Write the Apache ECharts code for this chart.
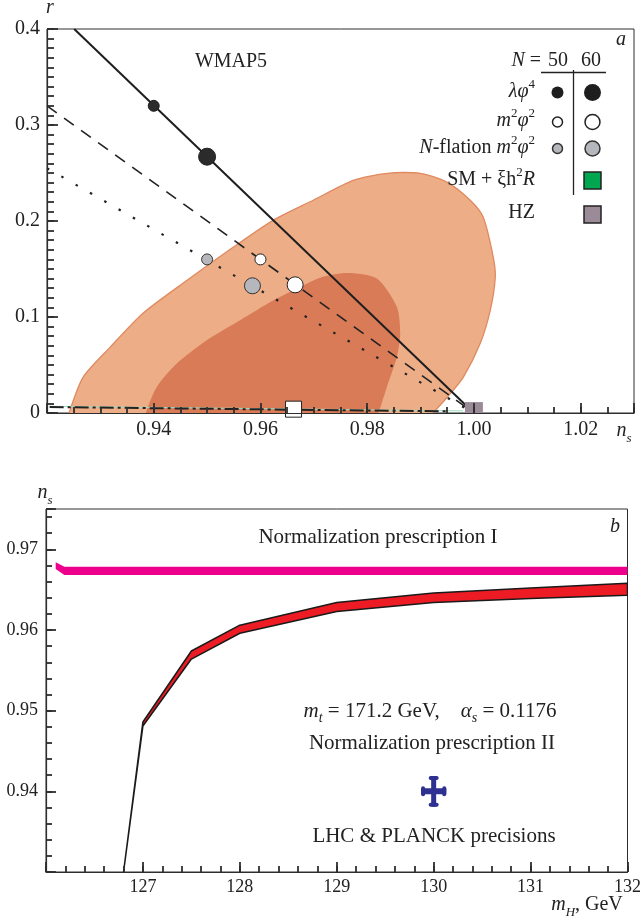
<!DOCTYPE html>
<html><head><meta charset="utf-8">
<script src="https://cdn.jsdelivr.net/npm/echarts@6/dist/echarts.min.js"></script>
<style>html,body{margin:0;padding:0;background:#fff}#c{width:644px;height:922px}</style>
</head><body><div id="c"></div>
<script>
// ---------- Panel a : r vs n_s ----------
const nsTicksA = [0.94, 0.96, 0.98, 1.00, 1.02];
const rTicks = [0, 0.1, 0.2, 0.3, 0.4];
const lambdaPhi4Line = [[0.9251, 0.4], [1.0, 0]];
const m2phi2Line = [[0.92, 0.32], [1.0, 0]];
const nflationLine = [[0.92, 0.255], [1.0, 0]];
const smXiLine = [[0.9205, 0.0062], [0.995, 0.0017]];
const smXiGreenLine = [[0.9205, 0.0070], [0.998, 0.0022]];
const lambdaPhi4Pts = [[0.94, 0.32], [0.95, 0.267]];
const m2phi2Pts = [[0.96, 0.16], [0.9665, 0.1335]];
const nflationPts = [[0.95, 0.16], [0.9585, 0.1325]];
const smXiPoint = [[0.9662, 0.004]];
const hzPoint = [[1.0, 0.002]];
const wmap95 = [[0.9233,-0.02],[0.92413,0],[0.92675,0.0372],[0.93181,0.0684],[0.9380,0.1039],[0.94625,0.1382],
  [0.95488,0.1726],[0.96238,0.2007],[0.96988,0.2216],[0.97738,0.2424],[0.98375,0.2497],
  [0.98994,0.2497],[0.995,0.2403],[0.99931,0.2216],[1.00175,0.2039],[1.00363,0.1622],
  [1.0040,0.1413],[1.00306,0.107],[1.00119,0.0726],[0.998,0.0372],[0.995,0.0164],[0.99238,0],[0.9898,-0.02]];
const wmap68 = [[0.9378,-0.02],[0.93851,0],[0.94057,0.0271],[0.94432,0.0515],[0.94994,0.0757],[0.95619,0.0966],
  [0.96243,0.1174],[0.96744,0.1313],[0.97119,0.141],[0.9762,0.1458],[0.98182,0.14],
  [0.98557,0.1104],[0.98619,0.0827],[0.98557,0.0583],[0.98369,0.0271],[0.98212,0],[0.9808,-0.02]];

// ---------- Panel b : n_s vs m_H ----------
const mHTicks = [127, 128, 129, 130, 131, 132];
const nsTicksB = [0.94, 0.95, 0.96, 0.97];
const mHII = [126.8, 127, 127.5, 128, 129, 130, 131, 132];
const nsIIUpper = [0.9300, 0.9486, 0.9574, 0.9606, 0.9634, 0.9646, 0.9652, 0.9658];
const nsIILower = [0.9300, 0.9481, 0.9564, 0.9596, 0.9623, 0.9634, 0.9639, 0.9643];
const mHI = [126.1, 126.19, 126.3, 132];
const nsIUpper = [0.96839, 0.96784, 0.96784, 0.96784];
const nsILower = [0.96756, 0.96682, 0.96682, 0.96682];
const precisionPoint = [130, 0.940];
const precisionErr = [0.13, 0.0019];

const FONT = "'Liberation Serif','DejaVu Serif',serif";
const AX = '#2e2e2e';

function band(xs, up, lo) {
  const pts = xs.map((x, i) => [x, up[i]]);
  for (let i = xs.length - 1; i >= 0; i--) pts.push([xs[i], lo[i]]);
  return pts;
}
function polySeries(pts, xi, yi, style, z, smooth) {
  return {type: 'custom', xAxisIndex: xi, yAxisIndex: yi, clip: true, z: z, silent: true,
    data: [pts[1]],
    renderItem: (p, api) => ({type: 'polygon',
      shape: {points: pts.map(q => api.coord(q)), smooth: smooth || 0}, style: style})};
}
function lineSeries(data, style, z) {
  return {type: 'line', xAxisIndex: 0, yAxisIndex: 0, data: data, showSymbol: false, silent: true,
    z: z, lineStyle: style, animation: false};
}
function scatterSeries(data, sizes, symbol, style) {
  return {type: 'scatter', xAxisIndex: 0, yAxisIndex: 0, data: data, symbol: symbol, silent: true, z: 6,
    clip: false, symbolSize: (v, p) => sizes[p.dataIndex], itemStyle: Object.assign({opacity: 1}, style)};
}
const near = (arr, v) => arr.some(t => Math.abs(t - v) < 1e-6);

const labelStyle = (size, margin) => ({fontFamily: FONT, fontSize: size, color: '#222', margin: margin,
  showMinLabel: true, showMaxLabel: true});
const tickStyle = (len) => ({show: true, inside: true, length: len, lineStyle: {color: AX, width: 1.8}});
const overlay = (grid, isX, min, max, interval, len) => ({gridIndex: grid, type: 'value', min: min, max: max,
  interval: interval, position: isX ? 'bottom' : 'left', z: 20,
  axisLine: {show: false, onZero: false}, axisTick: tickStyle(len), axisLabel: {show: false}, splitLine: {show: false}});

function mkRich(fs) {
  const sfs = Math.round(fs * 0.65);
  return {
    m: {fontFamily: FONT, fontSize: fs, fill: '#222', lineHeight: 28},
    i: {fontFamily: FONT, fontSize: fs, fontStyle: 'italic', fill: '#222', lineHeight: 28},
    sup: {fontFamily: FONT, fontSize: sfs, fill: '#222', verticalAlign: 'top'},
    subi: {fontFamily: FONT, fontSize: sfs, fontStyle: 'italic', fill: '#222', verticalAlign: 'bottom'}
  };
}
function txt(x, y, text, align, fs) {
  return {type: 'text', x: x, y: y, z: 50, silent: true,
    style: {text: text, rich: mkRich(fs || 20), align: align || 'center', verticalAlign: 'middle',
      fontFamily: FONT, fontSize: fs || 20, fill: '#222'}};
}

const option = {
  backgroundColor: '#fff',
  animation: false,
  grid: [
    {left: 47, top: 29, width: 587, height: 384, show: true, borderColor: AX, borderWidth: 1, backgroundColor: 'transparent'},
    {left: 46, top: 509, width: 587, height: 363, show: true, borderColor: AX, borderWidth: 1, backgroundColor: 'transparent'}
  ],
  xAxis: [
    {gridIndex: 0, type: 'value', min: 0.92, max: 1.03, interval: 0.02, position: 'bottom', z: 20,
      axisLine: {onZero: false, lineStyle: {color: AX, width: 1.2}}, axisTick: tickStyle(10),
      axisLabel: Object.assign(labelStyle(20, 7), {formatter: v => near(nsTicksA, v) ? v.toFixed(2) : ''}),
      splitLine: {show: false}},
    overlay(0, true, 0.92, 1.03, 0.005, 6),
    {gridIndex: 1, type: 'value', min: 126, max: 132, interval: 1, position: 'bottom', z: 20,
      axisLine: {onZero: false, lineStyle: {color: AX, width: 1.2}}, axisTick: tickStyle(10),
      axisLabel: Object.assign(labelStyle(18, 6), {formatter: v => near(mHTicks, v) ? String(Math.round(v)) : ''}),
      splitLine: {show: false}},
    overlay(1, true, 126, 132, 0.2, 6)
  ],
  yAxis: [
    {gridIndex: 0, type: 'value', min: 0, max: 0.4, interval: 0.1, position: 'left', z: 20,
      axisLine: {onZero: false, lineStyle: {color: AX, width: 1.2}}, axisTick: tickStyle(11),
      axisLabel: Object.assign(labelStyle(20, 7), {formatter: v => near(rTicks, v) ? (v === 0 ? '0' : v.toFixed(1)) : ''}),
      splitLine: {show: false}},
    overlay(0, false, 0, 0.4, 0.01, 7),
    {gridIndex: 1, type: 'value', min: 0.93, max: 0.975, interval: 0.01, position: 'left', z: 20,
      axisLine: {onZero: false, lineStyle: {color: AX, width: 1.2}}, axisTick: tickStyle(10),
      axisLabel: Object.assign(labelStyle(18, 8), {formatter: v => near(nsTicksB, v) ? v.toFixed(2) : ''}),
      splitLine: {show: false}},
    overlay(1, false, 0.93, 0.975, 0.002, 6)
  ],
  series: [
    polySeries(wmap95, 0, 0, {fill: '#EDAD86', stroke: '#E08A60', lineWidth: 1.3}, 1, 0.25),
    polySeries(wmap68, 0, 0, {fill: '#D97B57'}, 2, 0.25),
    lineSeries(smXiGreenLine, {color: '#9fdcc0', width: 1, type: 'solid'}, 3),
    lineSeries(smXiLine, {color: '#222', width: 2, type: [14, 4, 3, 4]}, 4),
    lineSeries(nflationLine, {color: '#222', width: 2.2, type: [2.5, 14]}, 4),
    lineSeries(m2phi2Line, {color: '#222', width: 1.6, type: [12, 9]}, 4),
    lineSeries(lambdaPhi4Line, {color: '#1e1e1e', width: 2}, 4),
    scatterSeries(lambdaPhi4Pts, [11, 17], 'circle', {color: '#2b2b2b', borderColor: '#1e1e1e', borderWidth: 1}),
    scatterSeries(m2phi2Pts, [11, 16], 'circle', {color: '#fff', borderColor: '#222', borderWidth: 1}),
    scatterSeries(nflationPts, [11, 16], 'circle', {color: '#b6b7bd', borderColor: '#333', borderWidth: 1}),
    scatterSeries(smXiPoint, [16], 'rect', {color: '#fff', borderColor: '#222', borderWidth: 1}),
    {type: 'custom', xAxisIndex: 0, yAxisIndex: 0, clip: true, z: 5, silent: true, data: hzPoint,
      renderItem: (p, api) => {
        const c = api.coord([api.value(0), api.value(1)]);
        return {type: 'rect', shape: {x: c[0] - 9, y: c[1] - 9, width: 18, height: 18}, style: {fill: '#9b8a98'}};
      }},
    polySeries(band(mHI, nsIUpper, nsILower), 2, 2, {fill: '#EC008C'}, 2, 0),
    polySeries(band(mHII, nsIIUpper, nsIILower), 2, 2, {fill: '#ED1C24', stroke: '#1a1a1a', lineWidth: 1.5, lineJoin: 'round'}, 3, 0),
    {type: 'custom', xAxisIndex: 2, yAxisIndex: 2, clip: true, z: 5, silent: true, data: [precisionPoint],
      renderItem: (p, api) => {
        const x = api.value(0), y = api.value(1);
        const c = api.coord([x, y]);
        const l = api.coord([x - precisionErr[0], y]), r = api.coord([x + precisionErr[0], y]);
        const t = api.coord([x, y + precisionErr[1]]), b = api.coord([x, y - precisionErr[1]]);
        const st = {fill: '#2E3192'};
        return {type: 'group', children: [
          {type: 'rect', shape: {x: c[0] - 2.5, y: t[1], width: 5, height: b[1] - t[1], r: 1}, style: st},
          {type: 'rect', shape: {x: l[0], y: c[1] - 3, width: r[0] - l[0], height: 6, r: 1}, style: st},
          {type: 'rect', shape: {x: c[0] - 5, y: t[1], width: 10, height: 4, r: 2}, style: st},
          {type: 'rect', shape: {x: c[0] - 5, y: b[1] - 4, width: 10, height: 4, r: 2}, style: st},
          {type: 'rect', shape: {x: l[0], y: c[1] - 5, width: 4, height: 10, r: 2}, style: st},
          {type: 'rect', shape: {x: r[0] - 4, y: c[1] - 5, width: 4, height: 10, r: 2}, style: st}
        ]};
      }}
  ],
  graphic: [
    txt(50, 8, '{i|r}'),
    txt(624, 431, '{i|n}{subi|s}'),
    txt(231, 62, '{m|WMAP5}'),
    txt(621, 40, '{i|a}'),
    txt(541, 61, '{i|N}{m| =}', 'right'),
    txt(558, 61, '{m|50}'),
    txt(591, 61, '{m|60}'),
    {type: 'line', z: 50, silent: true, shape: {x1: 541, y1: 72.5, x2: 606, y2: 72.5}, style: {stroke: '#222', lineWidth: 1.3}},
    {type: 'line', z: 50, silent: true, shape: {x1: 573.5, y1: 70, x2: 573.5, y2: 195}, style: {stroke: '#222', lineWidth: 1.3}},
    txt(535, 92, '{i|λφ}{sup|4}', 'right'),
    txt(535, 121, '{i|m}{sup|2}{i|φ}{sup|2}', 'right'),
    txt(535, 148, '{i|N}{m|-flation }{i|m}{sup|2}{i|φ}{sup|2}', 'right'),
    txt(535, 180, '{m|SM + ξh}{sup|2}{i|R}', 'right'),
    txt(535, 213, '{m|HZ}', 'right'),
    {type: 'circle', z: 50, silent: true, shape: {cx: 557.5, cy: 92.5, r: 6}, style: {fill: '#1e1e1e'}},
    {type: 'circle', z: 50, silent: true, shape: {cx: 592.5, cy: 92.5, r: 8.5}, style: {fill: '#1e1e1e'}},
    {type: 'circle', z: 50, silent: true, shape: {cx: 557.5, cy: 122, r: 5}, style: {fill: '#fff', stroke: '#222', lineWidth: 1.5}},
    {type: 'circle', z: 50, silent: true, shape: {cx: 592.5, cy: 122, r: 7.5}, style: {fill: '#fff', stroke: '#222', lineWidth: 1.5}},
    {type: 'circle', z: 50, silent: true, shape: {cx: 557.5, cy: 148.5, r: 5}, style: {fill: '#b6b7bd', stroke: '#333', lineWidth: 1.5}},
    {type: 'circle', z: 50, silent: true, shape: {cx: 592.5, cy: 148.5, r: 7.5}, style: {fill: '#b6b7bd', stroke: '#333', lineWidth: 1.5}},
    {type: 'rect', z: 50, silent: true, shape: {x: 584, y: 172, width: 17, height: 17}, style: {fill: '#00A650', stroke: '#222', lineWidth: 1.5}},
    {type: 'rect', z: 50, silent: true, shape: {x: 584, y: 206, width: 17, height: 17}, style: {fill: '#9b8a98', stroke: '#222', lineWidth: 1.5}},
    txt(45, 493, '{i|n}{subi|s}'),
    txt(587, 905, '{i|m}{subi|H}{m|, GeV}'),
    txt(615, 527, '{i|b}'),
    txt(378, 537, '{m|Normalization prescription I}', 'center', 21),
    txt(430, 711, '{i|m}{subi|t}{m| = 171.2 GeV,    }{i|α}{subi|s}{m| = 0.1176}', 'center', 21),
    txt(432, 743, '{m|Normalization prescription II}', 'center', 21),
    txt(434, 836, '{m|LHC & PLANCK precisions}', 'center', 21)
  ]
};
const chart = echarts.init(document.getElementById('c'));
chart.setOption(option);
</script></body></html>
